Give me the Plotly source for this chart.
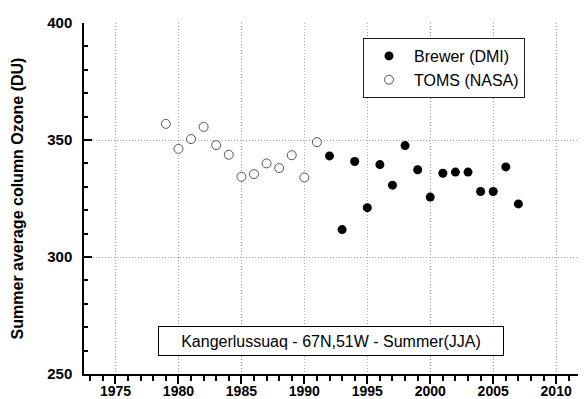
import plotly.graph_objects as go

# TOMS (NASA) satellite summer averages
toms_years = [1979, 1980, 1981, 1982, 1983, 1984, 1985, 1986, 1987, 1988, 1989, 1990, 1991]
toms_ozone = [356.9, 346.2, 350.4, 355.6, 347.8, 343.7, 334.3, 335.4, 340.0, 338.0, 343.5, 334.0, 349.1]

# Brewer (DMI) ground-based summer averages
brewer_years = [1992, 1993, 1994, 1995, 1996, 1997, 1998, 1999, 2000, 2001, 2002, 2003, 2004, 2005, 2006, 2007]
brewer_ozone = [343.2, 311.7, 340.8, 321.1, 339.5, 330.7, 347.6, 337.3, 325.6, 335.8, 336.3, 336.3, 328.0, 328.0, 338.5, 322.7]

x_ticks = [1975, 1980, 1985, 1990, 1995, 2000, 2005, 2010]
y_ticks = [250, 300, 350, 400]

FONT = "Liberation Sans, Arial, sans-serif"
XR = [1972.5, 2012.37]
YR = [250, 400]
GRID = "#a8a8a8"

# page has an 8px body margin, so the figure is 8px smaller and drawn from (8, 8)
OFF = 8
W, H = 586 - OFF, 399 - OFF
L, T, B = 84 - OFF, 23 - OFF, 399 - 374
PW, PH = W - L, H - T - B


def px_x(px):
    return (px - OFF - L) / PW


def px_y(py):
    return (H - B - (py - OFF)) / PH


fig = go.Figure()
fig.add_trace(go.Scatter(
    x=brewer_years, y=brewer_ozone, mode="markers", name="Brewer (DMI)",
    marker=dict(symbol="circle", size=9, color="black", line=dict(width=0)),
    cliponaxis=False,
))
fig.add_trace(go.Scatter(
    x=toms_years, y=toms_ozone, mode="markers", name="TOMS (NASA)",
    marker=dict(symbol="circle", size=9, color="white", line=dict(width=1, color="#555555")),
    cliponaxis=False,
))

fig.update_layout(
    width=W, height=H,
    margin=dict(l=L, r=0, t=T, b=B, pad=0),
    paper_bgcolor="white", plot_bgcolor="white",
    font=dict(family=FONT, color="black"),
    showlegend=True,
    legend=dict(
        x=px_x(525), xanchor="right",
        y=px_y(38), yanchor="top",
        bordercolor="#222222", borderwidth=1, bgcolor="white",
        font=dict(family=FONT, size=16, color="black"),
        itemwidth=40, tracegroupgap=0,
    ),
    xaxis=dict(
        range=XR, tickmode="array", tickvals=x_ticks, ticktext=["<b>%d</b>" % v for v in x_ticks],
        ticks="outside", ticklen=8, tickwidth=1.5, tickcolor="black",
        showline=True, linecolor="black", linewidth=1.5, mirror=False,
        showgrid=True, gridcolor=GRID, griddash="1px,2px", gridwidth=1,
        zeroline=False, automargin=False,
        tickfont=dict(family=FONT, size=14),
        ticklabelstandoff=-5,
        minor=dict(dtick=1, tick0=1970, ticks="outside", ticklen=5, tickwidth=1.5, tickcolor="black", showgrid=False),
    ),
    xaxis2=dict(
        range=XR, overlaying="x", side="top", anchor="y",
        tickmode="array", tickvals=x_ticks, showticklabels=False,
        ticks="inside", ticklen=5, tickwidth=1.5, tickcolor="black",
        showline=True, linecolor="black", linewidth=1.5,
        showgrid=False, zeroline=False, automargin=False,
        minor=dict(dtick=1, tick0=1970, ticks="inside", ticklen=4, tickwidth=1.5, tickcolor="black", showgrid=False),
    ),
    yaxis=dict(
        range=YR, tickmode="array", tickvals=y_ticks, ticktext=["<b>%d</b>" % v for v in y_ticks],
        ticks="inside", ticklen=8, tickwidth=1.5, tickcolor="black",
        showline=True, linecolor="black", linewidth=1.5, mirror="ticks",
        showgrid=True, gridcolor=GRID, griddash="1px,2px", gridwidth=1,
        zeroline=False, automargin=False,
        tickfont=dict(family=FONT, size=15),
        ticklabelstandoff=7,
        minor=dict(dtick=10, tick0=250, ticks="inside", ticklen=4, tickwidth=1.5, tickcolor="black", showgrid=False),
        title=dict(text="<b>Summer average column Ozone (DU)</b>", standoff=20,
                   font=dict(family=FONT, size=16)),
    ),
    annotations=[dict(
        text="Kangerlussuaq - 67N,51W - Summer(JJA)",
        xref="paper", yref="paper",
        x=px_x(331), y=px_y(341),
        xanchor="center", yanchor="middle", showarrow=False,
        font=dict(family=FONT, size=16, color="black"),
        bordercolor="black", borderwidth=1, borderpad=3,
        width=338, height=22, bgcolor="white",
    )],
)

fig.write_html("out.html")
